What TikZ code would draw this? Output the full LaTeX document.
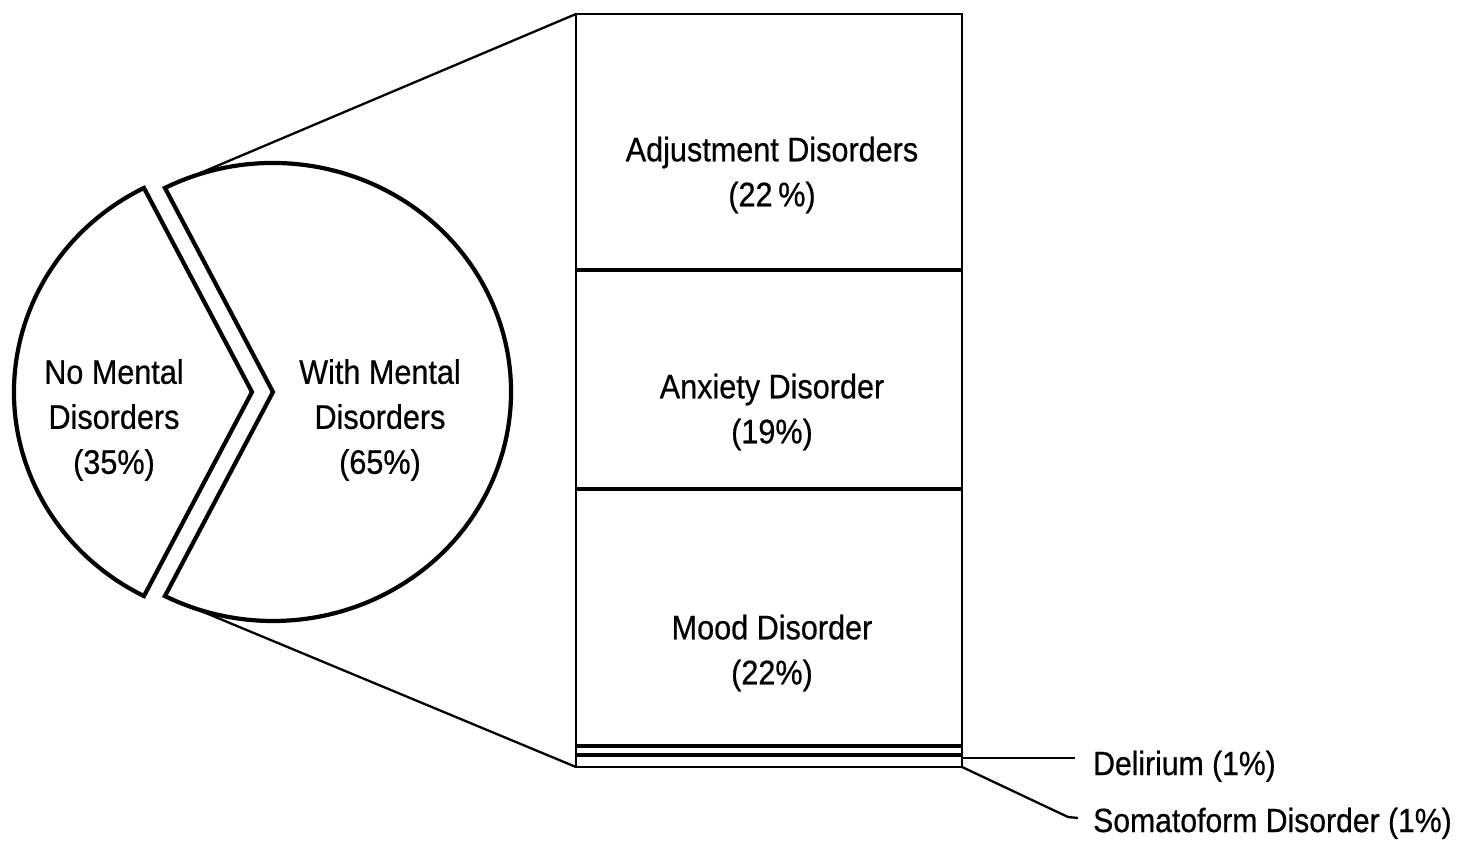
\documentclass[tikz,border=0pt]{standalone}
\usepackage{fontspec}
\setmainfont{Liberation Sans}[FakeStretch=0.9,FakeBold=0.6]
\usetikzlibrary{calc}
\begin{document}
\begin{tikzpicture}[x=1pt,y=1pt,
  slice/.style={draw=black,line width=4.2pt,fill=white,line join=miter},
  bar/.style={draw=black,line width=2.8pt},
  divider/.style={draw=black,line width=3.4pt},
  conn/.style={draw=black,line width=2.3pt},
  lbl/.style={inner sep=0pt,align=center,font=\fontsize{34}{45}\selectfont},
  side/.style={inner sep=0pt,anchor=base west,font=\fontsize{33.5}{40}\selectfont}]
\useasboundingbox (0,0) rectangle (1472,841);
% pie apexes
\coordinate (W) at (273,449);
\coordinate (N) at (252,449);
\coordinate (wtop) at ($(W)+(117:238 and 229)$);
\coordinate (wbot) at ($(W)+(-117:238 and 229)$);
% bar corners
\coordinate (btl) at (576,827);
\coordinate (btr) at (962,827);
\coordinate (bbl) at (576,74);
\coordinate (bbr) at (962,74);
% connectors from pie to bar
\draw[conn] (wtop) -- (btl);
\draw[conn] (wbot) -- (bbl);
% pie slices
\draw[slice] (W) -- ($(W)+(117:238 and 229)$) arc[start angle=117,end angle=-117,x radius=238,y radius=229] -- cycle;
\draw[slice] (N) -- ($(N)+(117:238 and 229)$) arc[start angle=117,end angle=243,x radius=238,y radius=229] -- cycle;
\node[lbl] (no) at (114,421) {No Mental\\Disorders\\(35\%)};
\node[lbl] (with) at (380,421) {With Mental\\Disorders\\(65\%)};
% bar
\draw[bar] (bbl) rectangle (btr);
\draw[divider] (576,571) -- (962,571);
\draw[divider] (576,352) -- (962,352);
\draw[divider] (576,95) -- (962,95);
\draw[divider] (576,86) -- (962,86);
\node[lbl] (adj) at (772,666) {Adjustment Disorders\\(22\,\%)};
\node[lbl] (anx) at (772,429) {Anxiety Disorder\\(19\%)};
\node[lbl] (mood) at (772,188) {Mood Disorder\\(22\%)};
% side labels
\node[side] (del) at (1093,66) {Delirium (1\%)};
\node[side] (som) at (1093,9) {Somatoform Disorder (1\%)};
\coordinate (delend) at (1075,83);
\coordinate (delstart) at (962,83);
\coordinate (somknee) at (1068,24);
\coordinate (somend) at (1078,23);
\draw[conn] (delstart) -- (delend);
\draw[conn] (bbr) -- (somknee) -- (somend);
\end{tikzpicture}
\end{document}
